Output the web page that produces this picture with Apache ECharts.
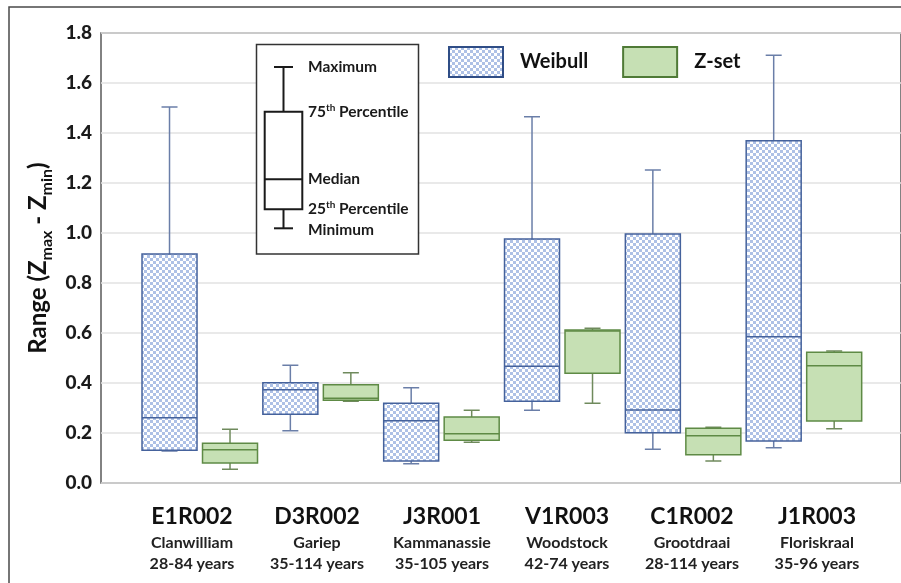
<!DOCTYPE html>
<html>
<head>
<meta charset="utf-8">
<script src="https://cdn.jsdelivr.net/npm/echarts@6/dist/echarts.min.js"></script>
<style>
  html, body { margin: 0; padding: 0; background: #fff; }
  #chart1 { width: 901px; height: 583px; }
</style>
</head>
<body>
<div id="chart1"></div>
<script>
var codes = ['E1R002', 'D3R002', 'J3R001', 'V1R003', 'C1R002', 'J1R003'];
var names = ['Clanwilliam', 'Gariep', 'Kammanassie', 'Woodstock', 'Grootdraai', 'Floriskraal'];
var periods = ['28-84 years', '35-114 years', '35-105 years', '42-74 years', '28-114 years', '35-96 years'];

// [min, q1, median, q3, max]
var weibull = [
  [0.128, 0.131, 0.261, 0.916, 1.504],
  [0.209, 0.275, 0.373, 0.401, 0.471],
  [0.077, 0.088, 0.249, 0.319, 0.381],
  [0.291, 0.327, 0.467, 0.976, 1.465],
  [0.135, 0.201, 0.292, 0.996, 1.252],
  [0.141, 0.168, 0.585, 1.369, 1.711]
];
var zset = [
  [0.055, 0.080, 0.133, 0.159, 0.215],
  [0.327, 0.331, 0.339, 0.393, 0.441],
  [0.163, 0.171, 0.197, 0.264, 0.291],
  [0.319, 0.439, 0.608, 0.612, 0.619],
  [0.088, 0.113, 0.189, 0.219, 0.223],
  [0.217, 0.248, 0.469, 0.523, 0.528]
];

var yMin = 0, yMax = 1.8, yStep = 0.2;
var font = 'Lato';

// checkered fill used by the Weibull boxes
var cv = document.createElement('canvas');
cv.width = 6; cv.height = 6;
var cx2 = cv.getContext('2d');
cx2.fillStyle = '#ffffff';
cx2.fillRect(0, 0, 6, 6);
cx2.fillStyle = '#aec1e6';
cx2.fillRect(0, 0, 3, 3);
cx2.fillRect(3, 3, 3, 3);
var checker = { image: cv, repeat: 'repeat' };

var greenFill = '#c6e0b4';

function boxRenderer(offset, fill, border, whisker) {
  return function (params, api) {
    var i = api.value(0);
    var lo = api.coord([i, api.value(1)]);
    var q1 = api.coord([i, api.value(2)]);
    var md = api.coord([i, api.value(3)]);
    var q3 = api.coord([i, api.value(4)]);
    var hi = api.coord([i, api.value(5)]);
    var x = lo[0] + offset;
    var half = 27.5, cap = 8;
    var ws = { stroke: whisker, lineWidth: 1.5 };
    return {
      type: 'group',
      children: [
        { type: 'line', shape: { x1: x, y1: hi[1], x2: x, y2: q3[1] }, style: ws },
        { type: 'line', shape: { x1: x, y1: q1[1], x2: x, y2: lo[1] }, style: ws },
        { type: 'line', shape: { x1: x - cap, y1: hi[1], x2: x + cap, y2: hi[1] }, style: ws },
        { type: 'line', shape: { x1: x - cap, y1: lo[1], x2: x + cap, y2: lo[1] }, style: ws },
        { type: 'rect', shape: { x: x - half, y: q3[1], width: half * 2, height: q1[1] - q3[1] },
          style: { fill: fill, stroke: border, lineWidth: 1.5 } },
        { type: 'line', shape: { x1: x - half, y1: md[1], x2: x + half, y2: md[1] },
          style: { stroke: border, lineWidth: 1.5 } }
      ]
    };
  };
}

function withIndex(arr) {
  return arr.map(function (d, i) { return [i].concat(d); });
}

var hiddenY = function (idx) {
  return { type: 'value', gridIndex: idx, min: yMin, max: yMax, interval: yStep, show: false };
};

var myChart = echarts.init(document.getElementById('chart1'));

// the "how to read a box" key, drawn on top of the grid lines
var txt = { fontFamily: font, fontWeight: 'bold', fontSize: 15.5, fill: '#1a1a1a' };
function label(text, y) {
  return {
    type: 'text', x: 308, y: y,
    style: Object.assign({ text: text, verticalAlign: 'middle',
      rich: { s: { fontFamily: font, fontWeight: 'bold', fontSize: 10, verticalAlign: 'top', lineHeight: 18, fill: '#1a1a1a' } } }, txt)
  };
}
var k = { stroke: '#1a1a1a', lineWidth: 2 };
var keyParts = [
  { type: 'rect', shape: { x: 256.5, y: 44.5, width: 162, height: 209.5 },
    style: { fill: '#fff', stroke: '#333', lineWidth: 1.5 } },
  { type: 'line', shape: { x1: 283.5, y1: 67, x2: 283.5, y2: 111.7 }, style: k },
  { type: 'line', shape: { x1: 274, y1: 67, x2: 293, y2: 67 }, style: k },
  { type: 'rect', shape: { x: 264.7, y: 111.7, width: 37.6, height: 97.6 }, style: { fill: 'none', stroke: '#1a1a1a', lineWidth: 2 } },
  { type: 'line', shape: { x1: 264.7, y1: 179.3, x2: 302.3, y2: 179.3 }, style: k },
  { type: 'line', shape: { x1: 283.5, y1: 209.3, x2: 283.5, y2: 228.3 }, style: k },
  { type: 'line', shape: { x1: 274, y1: 228.3, x2: 293, y2: 228.3 }, style: k },
  label('Maximum', 67),
  label('75{s|th} Percentile', 112),
  label('Median', 179),
  label('25{s|th} Percentile', 209),
  label('Minimum', 230)
];
keyParts.forEach(function (el, i) { el.z = 100 + i; });

option = {
  backgroundColor: '#fff',
  animation: false,
  grid: [
    { left: 101, top: 33, right: -10, height: 450, show: true, borderColor: '#5a5a5a', borderWidth: 1.5 },
    { left: 139.6, top: 33, width: 725, height: 450 },
    { left: 129.5, top: 33, width: 750, height: 450 }
  ],
  xAxis: [
    { type: 'category', gridIndex: 0, data: [''], show: false },
    { type: 'category', gridIndex: 1, data: codes, show: false },
    {
      type: 'category', gridIndex: 2, data: codes,
      axisLine: { show: false }, axisTick: { show: false },
      axisLabel: {
        margin: 19, interval: 0,
        formatter: function (v, i) {
          return '{a|' + v + '}\n{b|' + names[i] + '}\n{b|' + periods[i] + '}';
        },
        rich: {
          a: { fontFamily: font, fontWeight: 'bold', fontSize: 23, lineHeight: 30, color: '#111' },
          b: { fontFamily: font, fontWeight: 'bold', fontSize: 16, lineHeight: 21, color: '#222' }
        }
      }
    }
  ],
  yAxis: [
    {
      type: 'value', gridIndex: 0, min: yMin, max: yMax, interval: yStep,
      axisLine: { show: false }, axisTick: { show: false },
      axisLabel: {
        margin: 9, fontFamily: font, fontWeight: 900, fontSize: 19, color: '#1a1a1a',
        formatter: function (v) { return v.toFixed(1); }
      },
      splitLine: { lineStyle: { color: '#e2e2e2', width: 1.5 } },
      name: '{m|Range (Z}{s|max}{m| - Z}{s|min}{m|)}',
      nameLocation: 'middle', nameRotate: 90, nameGap: 42,
      nameTextStyle: {
        rich: {
          m: { fontFamily: font, fontWeight: 'bold', fontSize: 24, lineHeight: 32, color: '#111' },
          s: { fontFamily: font, fontWeight: 'bold', fontSize: 16, lineHeight: 16, verticalAlign: 'bottom', color: '#111' }
        }
      }
    },
    hiddenY(1),
    hiddenY(2)
  ],
  legend: {
    data: ['Weibull', 'Z-set'],
    left: 448, top: 46, padding: 0,
    icon: 'rect', itemWidth: 54, itemHeight: 30, itemGap: 34,
    textStyle: { fontFamily: font, fontWeight: 'bold', fontSize: 20, color: '#111', padding: [0, 0, 0, 12] }
  },
  graphic: [
    { type: 'rect', z: -10, shape: { x: 9, y: 7, width: 920, height: 620 },
      style: { fill: 'none', stroke: '#4a4a4a', lineWidth: 1.5 } }
  ].concat(keyParts),
  series: [
    {
      name: 'Weibull', type: 'custom', xAxisIndex: 1, yAxisIndex: 1,
      renderItem: boxRenderer(-30.5, checker, '#45629c', '#6a7ea8'),
      itemStyle: { color: checker, borderColor: '#2f4d86', borderWidth: 2 },
      encode: { x: 0, y: [1, 2, 3, 4, 5] },
      data: withIndex(weibull)
    },
    {
      name: 'Z-set', type: 'custom', xAxisIndex: 1, yAxisIndex: 1,
      renderItem: boxRenderer(30, greenFill, '#5e8a45', '#6f8a5c'),
      itemStyle: { color: greenFill, borderColor: '#4f7a36', borderWidth: 2 },
      encode: { x: 0, y: [1, 2, 3, 4, 5] },
      data: withIndex(zset)
    }
  ]
};
myChart.setOption(option);
</script>
</body>
</html>
